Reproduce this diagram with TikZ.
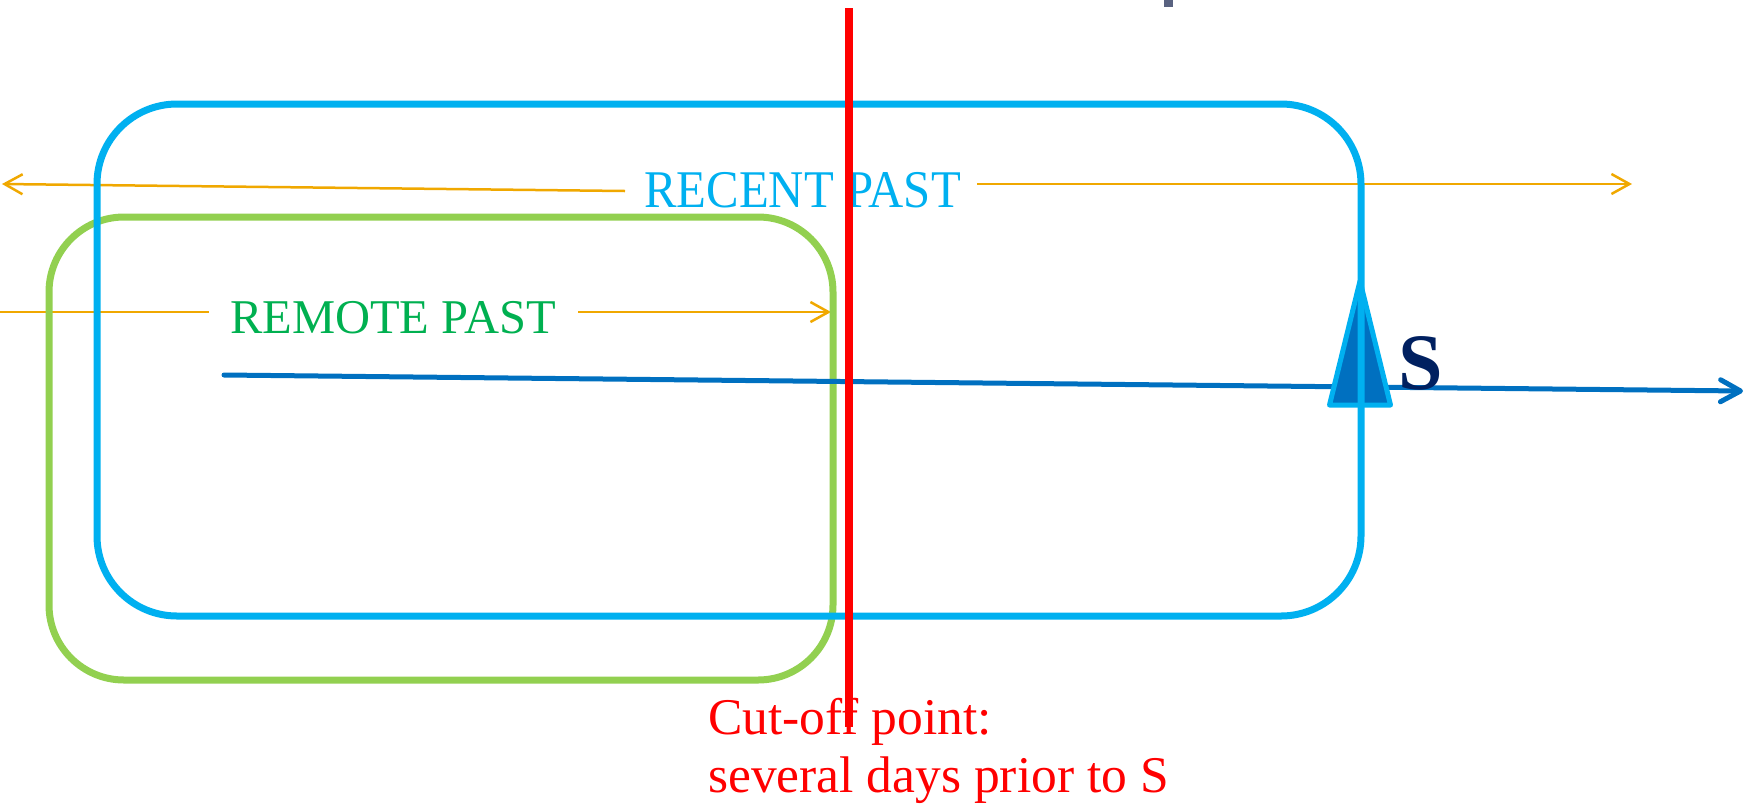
\documentclass[tikz,border=0pt]{standalone}
\usepackage{fontspec}
\setmainfont{Liberation Serif}
\usetikzlibrary{arrows.meta}

\definecolor{recentcyan}{HTML}{00B0F0}
\definecolor{remotegreen}{HTML}{92D050}
\definecolor{remotetext}{HTML}{00B050}
\definecolor{cutred}{HTML}{FF0000}
\definecolor{axisblue}{HTML}{0070C0}
\definecolor{snavy}{HTML}{002060}
\definecolor{spanorange}{RGB}{240,168,0}
\definecolor{tickgray}{RGB}{89,98,128}

\begin{document}
\begin{tikzpicture}[x=1pt,y=-1pt,
  spanline/.style={draw=spanorange,line width=2.5pt},
  spanarrow/.style={spanline,-{Straight Barb[length=18pt,width=20pt]}},
  periodbox/.style={line width=7pt,rounded corners=#1},
  timeline/.style={draw=axisblue,line width=5pt,line cap=round,
    -{Straight Barb[length=20pt,width=22pt,line cap=round,line join=round]}},
  label/.style={inner sep=0pt,anchor=base west}]

\useasboundingbox (0,0) rectangle (1748,804);

% small tick at the top edge
\fill[tickgray] (1164,0) rectangle (1173,7);

% extent arrows of the two periods
\coordinate (recentL)    at (625,191);
\coordinate (recentLtip) at (2,184);
\coordinate (recentR)    at (977,184);
\coordinate (recentRtip) at (1632,184);
\coordinate (remoteL0)   at (0,312);
\coordinate (remoteL1)   at (209,312);
\coordinate (remoteR)    at (578,312);
\coordinate (remoteRtip) at (831,312);
\draw[spanarrow] (recentL) -- (recentLtip);
\draw[spanarrow] (recentR) -- (recentRtip);
\draw[spanline]  (remoteL0) -- (remoteL1);
\draw[spanarrow] (remoteR) -- (remoteRtip);

% remote past
\draw[periodbox=75pt,draw=remotegreen] (49,217) rectangle (833,680);

% time axis
\coordinate (t0)   at (224,375);
\coordinate (tend) at (1743,391);
\draw[timeline] (t0) -- (tend);

% marker of S
\draw[draw=recentcyan,fill=axisblue,line width=5pt,line join=round]
  (1360,281) -- (1390.5,405) -- (1329.5,405) -- cycle;

% recent past
\draw[periodbox=80pt,draw=recentcyan] (97,104) rectangle (1361,616);

% labels
\node[label,text=recentcyan,font=\fontsize{53}{60}\selectfont] (recent) at (644,207)
  {\scalebox{0.92}[1]{RECENT PAST}};
\node[label,text=remotetext,font=\fontsize{48.5}{56}\selectfont] (remote) at (230,333)
  {REMOTE PAST};
% base of a two-line node is the baseline of its last line
\node[label,text=cutred,align=left,font=\fontsize{51.5}{58}\selectfont] (cutoff) at (708,792)
  {Cut-off point:\\several days prior to S};
\node[label,text=snavy,font=\fontsize{80}{80}\selectfont\bfseries] (s) at (1398,389)
  {S};

% cut-off line
\coordinate (cutTop) at (849,8);
\coordinate (cutBot) at (849,727);
\draw[cutred,line width=8pt] (cutTop) -- (cutBot);

\end{tikzpicture}
\end{document}
